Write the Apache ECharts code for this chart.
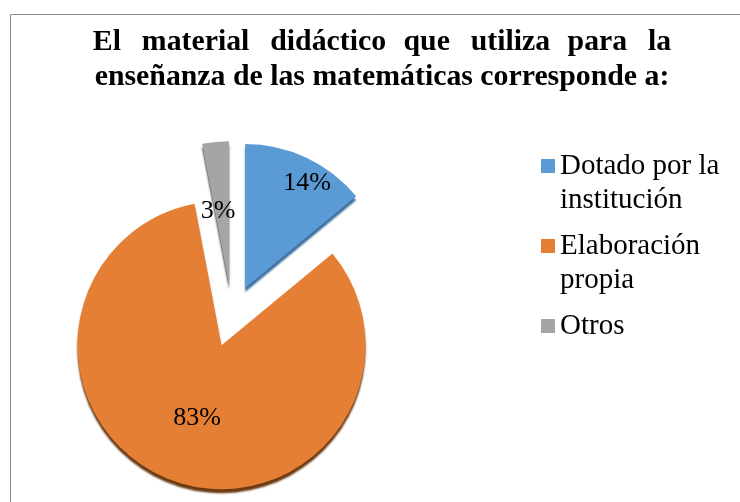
<!DOCTYPE html>
<html>
<head>
<meta charset="utf-8">
<script src="https://cdn.jsdelivr.net/npm/echarts@6/dist/echarts.min.js"></script>
<style>
  html, body { margin: 0; padding: 0; background: #fff; }
  #chart { width: 740px; height: 502px; }
</style>
</head>
<body>
<div id="chart"></div>
<script>
// categories / values
var categories = ['Dotado por la\ninstitución', 'Elaboración\npropia', 'Otros'];
var values = [14, 83, 3];
var colors = ['#5B9BD5', '#E67F36', '#A5A5A5'];
var rimColors = ['#3d6f9e', '#6b3a12', '#4a4a4a'];

// legend squares sit on the first text line (tall invisible box, square at top)
var iconTwoLines = 'path://M0,0M14,68M0,10H14V24H0Z';
var iconOneLine = 'path://M0,0M14,34M0,10H14V24H0Z';

var myChart = echarts.init(document.getElementById('chart'));

var pieData = categories.map(function (name, i) {
    return {
        name: name,
        value: values[i],
        selected: true,
        itemStyle: {
            color: colors[i],
            shadowColor: rimColors[i],
            shadowBlur: 2,
            shadowOffsetY: 4
        }
    };
});

var legendData = categories.map(function (name) {
    return {
        name: name,
        icon: name.indexOf('\n') >= 0 ? iconTwoLines : iconOneLine
    };
});

// first title line is justified in the original, so widen the word gaps
var wide = '  \u2009', narrow = '  \u200A';
var titleLine1 = 'El' + wide + 'material' + wide + 'didáctico' + narrow + 'que' +
    wide + 'utiliza' + narrow + 'para' + wide + 'la';

option = {
    animation: false,
    title: {
        text: titleLine1 + '\nenseñanza de las matemáticas corresponde a:',
        left: 377,
        top: 20,
        textAlign: 'center',
        textStyle: {
            fontFamily: 'Liberation Serif',
            fontWeight: 'bold',
            fontSize: 29.8,
            lineHeight: 35,
            color: '#000'
        }
    },
    legend: {
        orient: 'vertical',
        left: 541,
        top: 149,
        padding: 0,
        itemWidth: 14,
        itemHeight: 68,
        itemGap: 12,
        selectedMode: false,
        data: legendData,
        textStyle: {
            fontFamily: 'Liberation Serif',
            fontSize: 29,
            lineHeight: 34,
            color: '#000'
        }
    },
    graphic: [{
        type: 'rect',
        left: 8,
        top: 12,
        shape: { width: 800, height: 600 },
        style: { fill: 'none', stroke: '#8c8c8c', lineWidth: 1 },
        silent: true
    }],
    series: [
        {
            name: 'Material',
            type: 'pie',
            center: [232, 316],
            radius: 144,
            startAngle: 90,
            clockwise: true,
            selectedMode: 'multiple',
            selectedOffset: 31,
            select: { itemStyle: {} },
            label: {
                show: true,
                position: 'inside',
                formatter: '{d}%',
                fontFamily: 'Liberation Serif',
                fontSize: 26,
                color: '#000'
            },
            labelLine: { show: false },
            labelLayout: function (params) {
                var shift = { 0: [30, -37], 1: [1, 2], 2: [-4, 1] };
                var s = shift[params.dataIndex] || [0, 0];
                return { dx: s[0], dy: s[1] };
            },
            data: pieData
        }
    ]
};
myChart.setOption(option);
</script>
</body>
</html>
